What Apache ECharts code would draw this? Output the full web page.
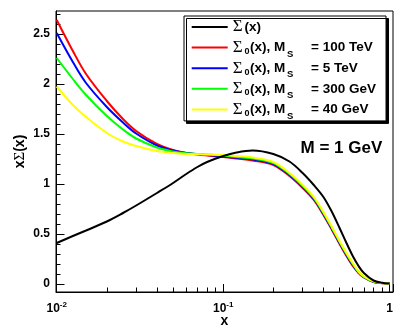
<!DOCTYPE html>
<html>
<head>
<meta charset="utf-8">
<script src="https://cdn.jsdelivr.net/npm/echarts@6/dist/echarts.min.js"></script>
<style>html,body{margin:0;padding:0;background:#fff;}#c{width:403px;height:332px;}</style>
</head>
<body>
<div id="c"></div>
<script>
// ---- data ----
const xValues = [0.01, 0.0125, 0.015, 0.02, 0.025, 0.03, 0.04, 0.05, 0.06, 0.07, 0.08, 0.1, 0.12, 0.15, 0.2, 0.25, 0.3, 0.35, 0.4, 0.45, 0.5, 0.55, 0.6, 0.65, 0.7, 0.8, 0.9, 1.0];
const sigmaFull = [0.41, 0.48, 0.535, 0.625, 0.71, 0.785, 0.91, 1.01, 1.10, 1.17, 1.22, 1.28, 1.315, 1.335, 1.30, 1.225, 1.11, 0.99, 0.87, 0.72, 0.56, 0.41, 0.28, 0.18, 0.11, 0.035, 0.012, 0.005];
const sigma0_100TeV = [2.64, 2.33, 2.10, 1.83, 1.65, 1.53, 1.40, 1.34, 1.31, 1.295, 1.285, 1.27, 1.255, 1.235, 1.19, 1.08, 0.96, 0.84, 0.69, 0.54, 0.40, 0.28, 0.18, 0.11, 0.065, 0.02, 0.008, 0.005];
const sigma0_5TeV = [2.51, 2.22, 2.01, 1.77, 1.615, 1.505, 1.385, 1.335, 1.31, 1.30, 1.29, 1.275, 1.262, 1.245, 1.20, 1.09, 0.97, 0.85, 0.70, 0.55, 0.41, 0.29, 0.19, 0.115, 0.068, 0.022, 0.009, 0.005];
const sigma0_300GeV = [2.26, 2.05, 1.89, 1.68, 1.545, 1.455, 1.365, 1.325, 1.307, 1.30, 1.295, 1.283, 1.27, 1.255, 1.21, 1.10, 0.98, 0.86, 0.71, 0.56, 0.42, 0.30, 0.20, 0.12, 0.072, 0.024, 0.01, 0.005];
const sigma0_40GeV = [1.975, 1.79, 1.67, 1.51, 1.425, 1.38, 1.33, 1.31, 1.30, 1.298, 1.296, 1.29, 1.28, 1.265, 1.22, 1.11, 0.99, 0.87, 0.72, 0.57, 0.43, 0.31, 0.21, 0.125, 0.075, 0.026, 0.011, 0.005];

const seriesNames = ['Σ(x)', 'Σ0(x), MS = 100 TeV', 'Σ0(x), MS = 5 TeV', 'Σ0(x), MS = 300 GeV', 'Σ0(x), MS = 40 GeV'];
const massLabels = ['100 TeV', '5 TeV', '300 GeV', '40 GeV'];
const seriesColors = ['#000000', '#ff0000', '#0000ff', '#00ff00', '#ffff00'];

const xMinorTicks = [0.02, 0.03, 0.04, 0.05, 0.06, 0.07, 0.08, 0.09, 0.2, 0.3, 0.4, 0.5, 0.6, 0.7, 0.8, 0.9];
const yMajorTicks = [0, 0.5, 1, 1.5, 2, 2.5];
const yMinorTicks = [0.1, 0.2, 0.3, 0.4, 0.6, 0.7, 0.8, 0.9, 1.1, 1.2, 1.3, 1.4, 1.6, 1.7, 1.8, 1.9, 2.1, 2.2, 2.3, 2.4, 2.6, 2.7];
const xMin = 0.0099, xMax = 1.047, yMin = -0.08, yMax = 2.73;
const annotation = 'M = 1 GeV';

// ---- chart ----
const FONT = 'Liberation Sans';
const SERIF = 'Liberation Serif';
const allSeries = [sigmaFull, sigma0_100TeV, sigma0_5TeV, sigma0_300GeV, sigma0_40GeV];

function pairs(ys) { return xValues.map((x, i) => [x, ys[i]]); }

const legendRich = {
  sig: {fontFamily: SERIF, fontSize: 17, fontWeight: 'normal', width: 11.7, height: 16, lineHeight: 16, color: '#000'},
  t: {fontFamily: FONT, fontSize: 13.5, fontWeight: 'bold', height: 16, lineHeight: 16, color: '#000'},
  tm: {fontFamily: FONT, fontSize: 13.5, fontWeight: 'bold', height: 16, lineHeight: 16, width: 37, color: '#000'},
  s0: {fontFamily: FONT, fontSize: 9, fontWeight: 'bold', height: 2, lineHeight: 16, width: 5.7, padding: [8, 0, 0, 0], color: '#000'},
  s1: {fontFamily: FONT, fontSize: 9.5, fontWeight: 'bold', height: 2, lineHeight: 16, width: 24, padding: [13, 0, 0, 0], color: '#000'},
  s1e: {fontFamily: FONT, fontSize: 9.5, fontWeight: 'bold', height: 2, lineHeight: 16, width: 1, padding: [13, 0, 0, 0], color: '#000'}
};

function legendFormatter(name) {
  const i = seriesNames.indexOf(name);
  if (i === 0) return '{sig|Σ}{t|(x)}{s1e| }';
  return '{sig|Σ}{s0|0}{tm|(x), M}{s1|S}{t|= ' + massLabels[i - 1] + '}';
}

const drawOrder = [1, 2, 3, 4, 0];
const series = drawOrder.map(i => ({
  name: seriesNames[i],
  type: 'line',
  xAxisIndex: 0,
  yAxisIndex: 0,
  data: pairs(allSeries[i]),
  showSymbol: false,
  smooth: 0.35,
  lineStyle: {color: seriesColors[i], width: 2},
  itemStyle: {color: seriesColors[i]},
  animation: false,
  silent: true
}));

const chart = echarts.init(document.getElementById('c'), null, {renderer: 'canvas'});
chart.setOption({
  animation: false,
  backgroundColor: '#fff',
  grid: {left: 56, right: 10, top: 11, bottom: 40, containLabel: false, outerBoundsMode: 'none',
         show: true, borderColor: '#000', borderWidth: 1, backgroundColor: 'transparent'},
  legend: {
    data: seriesNames,
    orient: 'vertical',
    left: 184, top: 16,
    icon: 'rect', itemWidth: 36, itemHeight: 2, itemGap: 0.6,
    padding: [2.5, 10, 0, 7.7],
    borderColor: '#000', borderWidth: 1, backgroundColor: '#fff',
    shadowColor: '#000', shadowBlur: 0, shadowOffsetX: 2.5, shadowOffsetY: 2.5,
    selectedMode: false,
    formatter: legendFormatter,
    textStyle: {rich: legendRich, color: '#000'}
  },
  xAxis: [{
    type: 'log', logBase: 10, min: xMin, max: xMax, position: 'bottom', offset: 0,
    axisLine: {show: true, onZero: false, lineStyle: {color: '#000', width: 1}},
    axisTick: {show: true, inside: true, length: 8, lineStyle: {color: '#000', width: 1}},
    splitLine: {show: false},
    axisLabel: {
      margin: 9.5, color: '#000',
      formatter: function (v) {
        const L = Math.log10(v), R = Math.round(L);
        if (Math.abs(L - R) > 1e-6) return '';
        if (R === 0) return '{b|1}';
        return '{b|10}{sup|' + R + '}';
      },
      rich: {
        b: {fontFamily: FONT, fontWeight: 'bold', fontSize: 12, lineHeight: 14, color: '#000'},
        sup: {fontFamily: FONT, fontWeight: 'bold', fontSize: 8, lineHeight: 14, padding: [0, 0, 8, 0], color: '#000'}
      }
    },
    name: 'x', nameLocation: 'middle', nameGap: 22.5, nameMoveOverlap: false,
    nameTextStyle: {fontFamily: FONT, fontWeight: 'bold', fontSize: 14, color: '#000'}
  }, {
    type: 'value', min: Math.log10(xMin), max: Math.log10(xMax), position: 'bottom', offset: 0,
    axisLine: {show: false, onZero: false},
    axisTick: {show: true, inside: true, length: 4.5, customValues: xMinorTicks.map(v => Math.log10(v)), lineStyle: {color: '#000', width: 1}},
    axisLabel: {show: false},
    splitLine: {show: false}
  }],
  yAxis: [{
    type: 'value', min: yMin, max: yMax, position: 'left', offset: 0,
    axisLine: {show: true, onZero: false, lineStyle: {color: '#000', width: 1}},
    axisTick: {show: true, inside: true, length: 8.5, customValues: yMajorTicks, lineStyle: {color: '#000', width: 1}},
    axisLabel: {customValues: yMajorTicks, margin: 6, fontFamily: FONT, fontWeight: 'bold', fontSize: 12, color: '#000'},
    splitLine: {show: false},
    name: '{b|x}{g|Σ}{b|(x)}', nameLocation: 'middle', nameGap: 28, nameMoveOverlap: false,
    nameTextStyle: {
      rich: {
        b: {fontFamily: FONT, fontWeight: 'bold', fontSize: 14, color: '#000'},
        g: {fontFamily: SERIF, fontWeight: 'normal', fontSize: 15, color: '#000'}
      }
    }
  }, {
    type: 'value', min: yMin, max: yMax, position: 'left', offset: 0,
    axisLine: {show: false, onZero: false},
    axisTick: {show: true, inside: true, length: 4.5, customValues: yMinorTicks, lineStyle: {color: '#000', width: 1}},
    axisLabel: {show: false},
    splitLine: {show: false}
  }],
  graphic: [{
    type: 'text', left: 300.5, top: 139.5, silent: true,
    style: {text: annotation, fontFamily: FONT, fontWeight: 'bold', fontSize: 17, fill: '#000'}
  }],
  series: series
});
</script>
</body>
</html>
